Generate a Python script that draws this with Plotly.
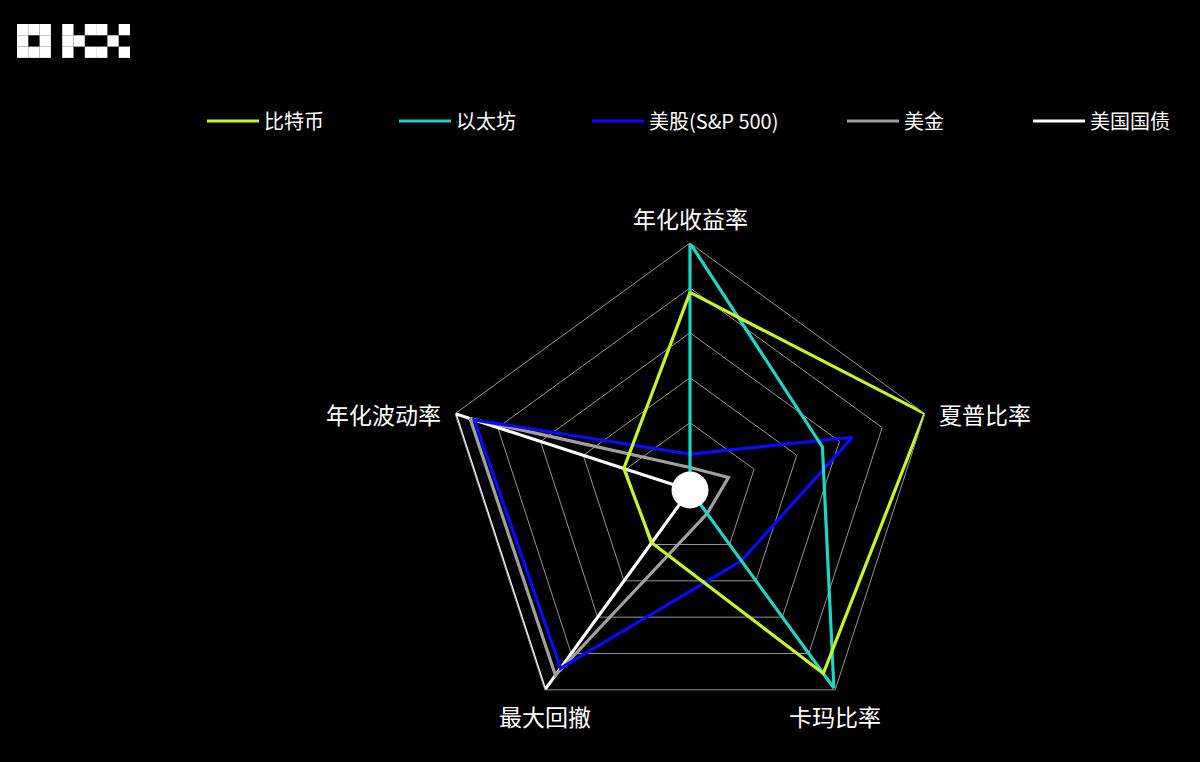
import math
import plotly.graph_objects as go

# ---- data ----
categories = ["年化收益率", "夏普比率", "卡玛比率", "最大回撤", "年化波动率"]
series_names = ["比特币", "以太坊", "美股(S&P 500)", "美金", "美国国债"]
btc = [88, 110, 101, 29, 31]
eth = [110, 62, 109, 0, 0]
spx = [16, 76, 39, 98, 101]
usd = [10, 18, 13, 102, 103]
ust = [0, 0, 0, 110, 110]
ring_values = [30, 50, 70, 90, 110]

series_values = [btc, eth, spx, usd, ust]
colors = ["#c6f52a", "#1fd6c6", "#0a0aff", "#a0a0a0", "#ffffff"]
legend_x_px = [202, 394, 587, 842, 1028]

W, H = 1200, 762
cx, cy, R = 690, 490, 247

fig = go.Figure()

# draw in reverse so first series is on top
for i in reversed(range(len(series_names))):
    vals = series_values[i]
    lg = "legend" if i == 0 else f"legend{i+1}"
    fig.add_trace(go.Scatterpolar(
        r=vals + [vals[0]],
        theta=categories + [categories[0]],
        mode="lines",
        name=series_names[i],
        line=dict(color=colors[i], width=3.2),
        legend=lg,
        hoverinfo="skip",
    ))

# white center dot
fig.add_trace(go.Scatterpolar(
    r=[0.001], theta=[categories[0]], mode="markers",
    marker=dict(color="white", size=37),
    cliponaxis=False,
    showlegend=False, hoverinfo="skip",
))

font_family = "Noto Sans CJK SC, Noto Sans, sans-serif"

layout_legends = {}
for i in range(len(series_names)):
    key = "legend" if i == 0 else f"legend{i+1}"
    layout_legends[key] = dict(
        x=legend_x_px[i] / W, y=1 - 121 / H,
        xanchor="left", yanchor="middle",
        orientation="h",
        itemwidth=52,
        bgcolor="rgba(0,0,0,0)",
        font=dict(color="white", size=20, family=font_family),
        itemclick=False, itemdoubleclick=False,
    )

# axis labels placed at the polar vertices (derived from the polar geometry)
annotations = []
n = len(categories)
label_anchor = [("center", "bottom", 0, 6), ("left", "middle", 12, 0),
                ("center", "top", 0, -7), ("center", "top", 0, -7),
                ("right", "middle", -12, 0)]
for k, cat in enumerate(categories):
    ang = math.radians(90 - 360 * k / n)
    px = cx + R * math.cos(ang)
    py = cy - R * math.sin(ang)
    xa, ya, xs, ys = label_anchor[k]
    annotations.append(dict(
        text=cat, x=px / W, y=1 - py / H, xref="paper", yref="paper",
        xanchor=xa, yanchor=ya, xshift=xs, yshift=ys, showarrow=False,
        font=dict(size=23, color="white", family=font_family),
    ))

# OKX logo blocks (unit grid)
u = 11.3
x0, y0 = 17, 24
logo_cells = [(0, 0), (1, 0), (2, 0), (0, 1), (2, 1), (0, 2), (1, 2), (2, 2),
              (4, 0), (4, 1), (4, 2), (5, 1), (6, 0), (6, 2),
              (7, 0), (7, 2), (8, 1), (9, 0), (9, 2)]
shapes = []
for c, r in logo_cells:
    shapes.append(dict(
        type="rect", xref="paper", yref="paper",
        x0=(x0 + c * u) / W, x1=(x0 + (c + 1) * u) / W,
        y0=1 - (y0 + (r + 1) * u) / H, y1=1 - (y0 + r * u) / H,
        fillcolor="white", line=dict(width=0),
    ))

fig.update_layout(
    width=W, height=H,
    margin=dict(l=0, r=0, t=0, b=0),
    paper_bgcolor="black",
    plot_bgcolor="black",
    font=dict(family=font_family, color="white"),
    shapes=shapes,
    annotations=annotations,
    polar=dict(
        domain=dict(x=[(cx - R) / W, (cx + R) / W],
                    y=[1 - (cy + R) / H, 1 - (cy - R) / H]),
        bgcolor="black",
        gridshape="linear",
        radialaxis=dict(
            range=[0, 110], tickvals=ring_values,
            showticklabels=False, ticks="", showline=False,
            gridcolor="#959595", gridwidth=1,
        ),
        angularaxis=dict(
            rotation=90, direction="clockwise",
            categoryarray=categories, categoryorder="array",
            showgrid=False, ticks="", showticklabels=False,
            showline=True, linecolor="#959595", linewidth=1,
        ),
    ),
    **layout_legends,
)

fig.write_html(
    "out.html",
    config={"displayModeBar": False},
    post_script="document.body.style.margin='0';document.body.style.background='black';",
)
